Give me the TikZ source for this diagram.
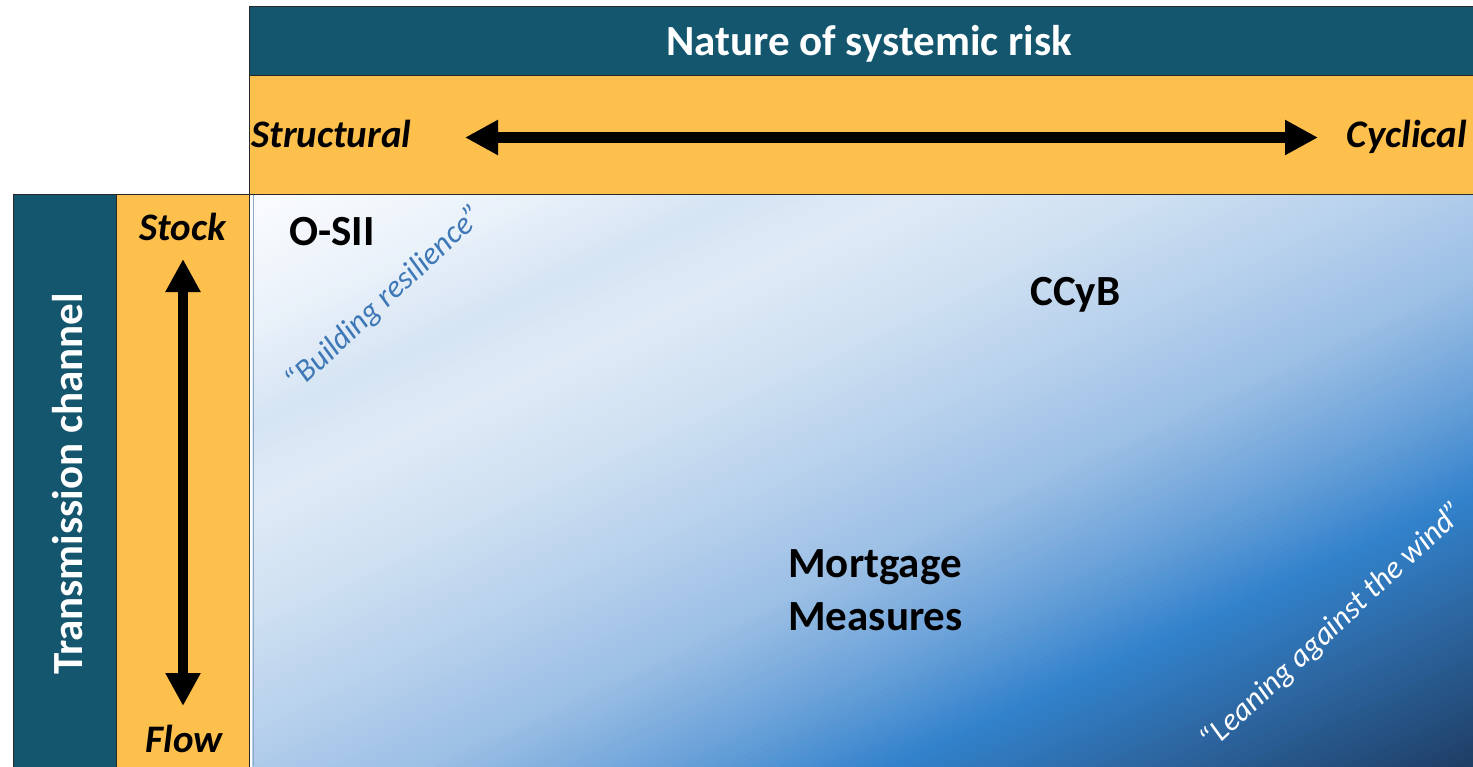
\documentclass[tikz,border=0pt]{standalone}
\usepackage{fontspec}
\setmainfont{Carlito}
\usetikzlibrary{arrows.meta}
\definecolor{darkband}{RGB}{19,86,110}
\definecolor{orangeband}{RGB}{254,192,76}
\definecolor{edge}{RGB}{40,40,40}
\definecolor{g0}{HTML}{FBFCFE}
\definecolor{g1}{HTML}{E8F0F9}
\definecolor{g2}{HTML}{D5E4F3}
\definecolor{g3}{HTML}{DFEAF6}
\definecolor{g4}{HTML}{D0E1F2}
\definecolor{g5}{HTML}{B6D0EC}
\definecolor{g6}{HTML}{9BBFE5}
\definecolor{g7}{HTML}{6FA4DA}
\definecolor{g8}{HTML}{3282CB}
\definecolor{g9}{HTML}{2D66A1}
\definecolor{g10}{HTML}{1E3D63}
\definecolor{resblue}{HTML}{3E78B6}
\definecolor{mainedge}{HTML}{8FA8C8}
\tikzset{
  darkrect/.style={fill=darkband, draw=edge, line width=0.5pt},
  orangerect/.style={fill=orangeband, draw=edge, line width=0.5pt},
  headtxt/.style={text=white, font=\bfseries\fontsize{21.5}{25}\selectfont, inner sep=0pt},
  axistxt/.style={text=black, font=\bfseries\itshape\fontsize{19.5}{23}\selectfont, inner sep=0pt},
  tooltxt/.style={text=black, font=\bfseries\fontsize{21.5}{25}\selectfont, inner sep=0pt},
  slogan/.style={font=\itshape\fontsize{15.8}{18}\selectfont, inner sep=0pt, rotate=43},
  bigarrow/.style={line width=5.3pt, {Triangle[length=16.5pt,width=16.5pt]}-{Triangle[length=16.5pt,width=16.5pt]}}
}
\begin{document}
\begin{tikzpicture}[x=0.5pt, y=-0.5pt]
\useasboundingbox (0,0) rectangle (1473,766);
\fill[white] (0,0) rectangle (1473,766);
% gradient area
\begin{scope}
\clip (252,195) rectangle (1473,766);
\foreach \ta/\tb/\ca/\cb in {0/0.12/g0/g1, 0.12/0.20/g1/g2, 0.20/0.27/g2/g3, 0.27/0.36/g3/g4, 0.36/0.47/g4/g5, 0.47/0.57/g5/g6, 0.57/0.66/g6/g7, 0.66/0.76/g7/g8, 0.76/0.86/g8/g9, 0.86/1.0/g9/g10}{
  \foreach \i in {0,...,15}{
    \pgfmathsetmacro\tS{\ta+(\tb-\ta)*\i/16}
    \pgfmathtruncatemacro\pp{100-100*\i/16}
    \fill[\ca!\pp!\cb] ({252+2*\tS*1221},195) -- (4000,195) -- (4000,2500) -- (252,2500) -- (252,{195+2*\tS*571}) -- cycle;
  }
}
\end{scope}
\draw[mainedge, line width=0.6pt] (253.5,195) -- (253.5,766);
% bands
\draw[darkrect] (249,6) rectangle (1480,75);
\draw[orangerect] (249,75) rectangle (1480,194);
\draw[darkrect] (13,194) rectangle (116,770);
\draw[orangerect] (116,194) rectangle (249,770);
% headers
\node[headtxt, anchor=base] (title) at (869,55) {Nature of systemic risk};
\node[headtxt, anchor=base, rotate=90] (channel) at (82,484) {Transmission channel};
% axis labels
\node[axistxt, anchor=base west] (structural) at (251,147) {Structural};
\node[axistxt, anchor=base east] (cyclical) at (1467,147) {Cyclical};
\node[axistxt, anchor=base] (stock) at (183,240) {Stock};
\node[axistxt, anchor=base] (flow) at (184,752) {Flow};
% arrows
\coordinate (hleft) at (465,137.5);
\coordinate (hright) at (1318,137.5);
\coordinate (vtop) at (183,259);
\coordinate (vbottom) at (183,706);
\draw[bigarrow] (hleft) -- (hright);
\draw[bigarrow] (vtop) -- (vbottom);
% tools
\node[tooltxt, anchor=base west] (osii) at (289,245) {O-SII};
\node[tooltxt, anchor=base west] (ccyb) at (1030,305) {CCyB};
\node[tooltxt, anchor=base west] (mort) at (788,577) {Mortgage};
\node[tooltxt, anchor=base west] (meas) at (788,630) {Measures};
% slogans
\node[slogan, text=resblue] (build) at (385,299) {“Building resilience”};
\node[slogan, text=white] (lean) at (1333,627) {“Leaning against the wind”};
\end{tikzpicture}
\end{document}
